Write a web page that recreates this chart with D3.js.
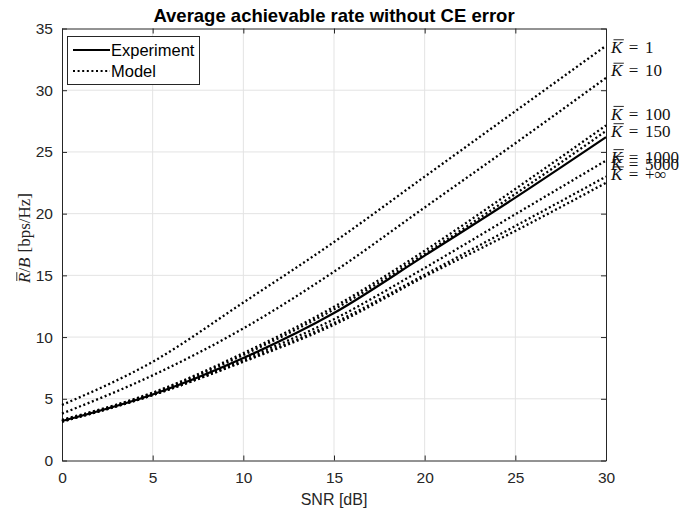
<!DOCTYPE html>
<html><head><meta charset="utf-8">
<script src="https://cdn.jsdelivr.net/npm/d3@7"></script>
<style>
html,body{margin:0;padding:0;background:#fff;}
svg{display:block;}
</style></head>
<body>
<svg id="chart" width="685" height="510"></svg>
<script>
// ---------------- data ----------------
const snr = [0, 5, 10, 15, 20, 25, 30];
const experiment = [3.2, 5.35, 8.3, 11.95, 16.6, 21.3, 26.2];
const modelK1    = [4.5, 8.0, 12.8, 17.7, 23.0, 28.3, 33.6];
const modelK10   = [3.8, 6.9, 10.7, 15.3, 20.5, 25.7, 31.0];
const modelK100  = [3.3, 5.5, 8.7, 12.45, 17.0, 22.0, 27.15];
const modelK150  = [3.25, 5.45, 8.55, 12.25, 16.75, 21.6, 26.7];
const modelK1000 = [3.2, 5.35, 8.2, 11.45, 15.6, 19.95, 24.3];
const modelK5000 = [3.15, 5.3, 8.05, 11.15, 15.05, 19.0, 23.0];
const modelKinf  = [3.15, 5.3, 8.0, 11.0, 14.9, 18.6, 22.5];
const modelSeries = [modelK1, modelK10, modelK100, modelK150, modelK1000, modelK5000, modelKinf];
const kLabels = ["1", "10", "100", "150", "1000", "5000", "+\u221E"];
const kLabelY = [33.5, 31.6, 28.1, 26.7, 24.6, 24.05, 23.2];
const xTicks = [0, 5, 10, 15, 20, 25, 30];
const yTicks = [0, 5, 10, 15, 20, 25, 30, 35];
const legendNames = ["Experiment", "Model"];
const titleText = "Average achievable rate without CE error";
const xLabelText = "SNR [dB]";

// ---------------- layout ----------------
const svg = d3.select("#chart");
const L = 62, R = 606, T = 28.5, B = 460.5;
const x = d3.scaleLinear().domain([0, 30]).range([L, R]);
const y = d3.scaleLinear().domain([0, 35]).range([B, T]);
const axisColor = "#262626";
const sans = "'Liberation Sans', Arial, Helvetica, sans-serif";
const serif = "'Liberation Serif', 'Times New Roman', serif";

svg.append("rect").attr("x", L).attr("y", T).attr("width", R - L).attr("height", B - T).attr("fill", "#fff");

// grid
const grid = svg.append("g").attr("stroke", "#e3e3e3").attr("stroke-width", 1);
xTicks.slice(1, -1).forEach(t => grid.append("line").attr("x1", x(t)).attr("x2", x(t)).attr("y1", T).attr("y2", B));
yTicks.slice(1, -1).forEach(t => grid.append("line").attr("x1", L).attr("x2", R).attr("y1", y(t)).attr("y2", y(t)));

// axes
const gx = svg.append("g").attr("transform", `translate(0,${B})`)
  .call(d3.axisBottom(x).tickValues(xTicks).tickSizeInner(-5).tickSizeOuter(0).tickPadding(11));
const gy = svg.append("g").attr("transform", `translate(${L},0)`)
  .call(d3.axisLeft(y).tickValues(yTicks).tickSizeInner(-5).tickSizeOuter(0).tickPadding(9));
const gxt = svg.append("g").attr("transform", `translate(0,${T})`)
  .call(d3.axisTop(x).tickValues(xTicks).tickSizeInner(-5).tickSizeOuter(0).tickFormat(""));
const gyr = svg.append("g").attr("transform", `translate(${R},0)`)
  .call(d3.axisRight(y).tickValues(yTicks).tickSizeInner(-5).tickSizeOuter(0).tickFormat(""));
[gx, gy, gxt, gyr].forEach(g => {
  g.select(".domain").attr("stroke", axisColor).attr("stroke-width", 1);
  g.selectAll(".tick line").attr("stroke", axisColor);
  g.selectAll(".tick text").attr("fill", axisColor).attr("font-family", sans).attr("font-size", 15.5);
});

// curves
const line = d3.line().x((d, i) => x(snr[i])).y(d => y(d)).curve(d3.curveMonotoneX);
const curves = svg.append("g").attr("fill", "none").attr("stroke", "#000");
modelSeries.forEach(s => {
  curves.append("path").attr("d", line(s)).attr("stroke-width", 2.3).attr("stroke-dasharray", "2,2.6");
});
curves.append("path").attr("d", line(experiment)).attr("stroke-width", 2.2);

// K labels
const labG = svg.append("g").attr("font-family", serif).attr("font-size", 17).attr("fill", "#111");
kLabels.forEach((lab, i) => {
  const t = labG.append("text").attr("x", x(30) + 5).attr("y", y(kLabelY[i])).attr("dy", "0.35em");
  t.append("tspan").attr("font-style", "italic").text("K");
  t.append("tspan").attr("dx", 6.5).text("=");
  t.append("tspan").attr("dx", 6.5).text(lab);
  const ext = t.node().getExtentOfChar(0);
  labG.append("line").attr("x1", ext.x + 2.5).attr("x2", ext.x + ext.width + 1.5)
    .attr("y1", ext.y + 1.8).attr("y2", ext.y + 1.8).attr("stroke", "#111").attr("stroke-width", 0.9);
});

// title
svg.append("text").attr("x", (L + R) / 2).attr("y", 22).attr("text-anchor", "middle")
  .attr("font-family", sans).attr("font-weight", "bold").attr("font-size", 18.5).attr("fill", "#000").text(titleText);

// x label
svg.append("text").attr("x", (L + R) / 2).attr("y", 505).attr("text-anchor", "middle")
  .attr("font-family", sans).attr("font-size", 16).attr("fill", axisColor).text(xLabelText);

// y label
const yCx = 30, yCy = 238;
const yl = svg.append("text").attr("transform", `translate(${yCx},${yCy}) rotate(-90)`)
  .attr("text-anchor", "middle").attr("font-family", serif).attr("font-size", 17).attr("fill", "#222");
yl.append("tspan").attr("font-style", "italic").text("R");
yl.append("tspan").text("/");
yl.append("tspan").attr("font-style", "italic").text("B");
yl.append("tspan").attr("dx", 5).text("[bps/Hz]");
{
  const ext = yl.node().getExtentOfChar(0);
  const g = svg.append("g").attr("transform", `translate(${yCx},${yCy}) rotate(-90)`);
  g.append("line").attr("x1", ext.x + 2).attr("x2", ext.x + ext.width + 0.5)
    .attr("y1", ext.y + 1.8).attr("y2", ext.y + 1.8).attr("stroke", "#222").attr("stroke-width", 0.9);
}

// legend
const lg = svg.append("g");
lg.append("rect").attr("x", 67.5).attr("y", 36.5).attr("width", 132).attr("height", 48)
  .attr("fill", "#fff").attr("stroke", axisColor).attr("stroke-width", 1);
legendNames.forEach((n, i) => {
  const ly = 50 + i * 21;
  lg.append("line").attr("x1", 73).attr("x2", 110).attr("y1", ly).attr("y2", ly)
    .attr("stroke", "#000").attr("stroke-width", 2.2).attr("stroke-dasharray", i === 0 ? null : "2,2.6");
  lg.append("text").attr("x", 111).attr("y", ly).attr("dy", "0.35em")
    .attr("font-family", sans).attr("font-size", 16.5).attr("fill", "#000").text(n);
});
</script>
</body></html>
